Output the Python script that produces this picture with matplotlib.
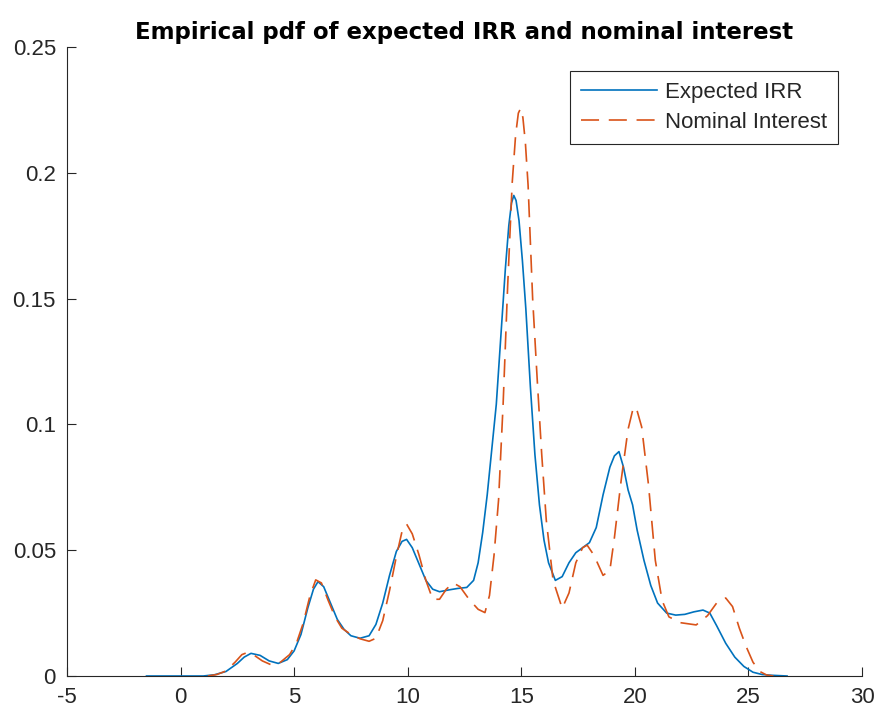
import numpy as np
import matplotlib
matplotlib.use('Agg')
import matplotlib.pyplot as plt
from matplotlib.ticker import FuncFormatter

# expected IRR
irr_x = [-1.5, 0, 1.0, 1.5, 2.0, 2.5, 2.8, 3.1, 3.5, 3.9, 4.3, 4.7, 5.0, 5.3, 5.6, 5.85,
         6.05, 6.3, 6.6, 6.9, 7.2, 7.5, 7.9, 8.3, 8.6, 8.9, 9.2, 9.5, 9.75, 9.95, 10.2,
         10.5, 10.8, 11.1, 11.4, 11.8, 12.2, 12.6, 12.9, 13.1, 13.3, 13.5, 13.7, 13.9,
         14.1, 14.3, 14.45, 14.57, 14.67, 14.77, 14.9, 15.05, 15.2, 15.4, 15.6, 15.8,
         16.0, 16.2, 16.5, 16.8, 17.1, 17.4, 17.7, 18.0, 18.3, 18.6, 18.9, 19.1, 19.3,
         19.5, 19.7, 19.9, 20.1, 20.4, 20.7, 21.0, 21.4, 21.8, 22.2, 22.6, 23.0, 23.3,
         23.6, 24.0, 24.4, 24.8, 25.2, 25.6, 26.0, 26.7]
irr_y = [0, 0, 0, 0.0005, 0.0018, 0.005, 0.0075, 0.009, 0.0082, 0.006, 0.005, 0.0065,
         0.010, 0.0165, 0.027, 0.0345, 0.0375, 0.0355, 0.029, 0.0225, 0.0185, 0.016,
         0.015, 0.016, 0.0205, 0.029, 0.040, 0.0495, 0.0535, 0.0543, 0.051, 0.0445,
         0.038, 0.0345, 0.0335, 0.0342, 0.0348, 0.0352, 0.038, 0.045, 0.057, 0.072,
         0.090, 0.108, 0.135, 0.162, 0.179, 0.188, 0.191, 0.189, 0.181, 0.165, 0.146,
         0.115, 0.088, 0.068, 0.054, 0.045, 0.038, 0.0395, 0.045, 0.049, 0.051, 0.053,
         0.059, 0.072, 0.083, 0.0875, 0.0892, 0.083, 0.074, 0.068, 0.058, 0.046, 0.036,
         0.029, 0.025, 0.0242, 0.0245, 0.0255, 0.0262, 0.025, 0.020, 0.013, 0.0075,
         0.0038, 0.0015, 0.0006, 0.0003, 0]

# nominal interest
nom_x = [1.2, 1.6, 2.0, 2.4, 2.7, 2.9, 3.2, 3.6, 4.0, 4.4, 4.8, 5.1, 5.4, 5.7, 5.95,
         6.2, 6.5, 6.8, 7.1, 7.5, 7.9, 8.3, 8.6, 8.9, 9.2, 9.5, 9.75, 9.95, 10.2, 10.5,
         10.8, 11.1, 11.4, 11.7, 12.0, 12.3, 12.7, 13.1, 13.4, 13.6, 13.8, 14.0, 14.2,
         14.4, 14.6, 14.75, 14.87, 14.97, 15.07, 15.18, 15.3, 15.5, 15.7, 15.9, 16.1,
         16.4, 16.8, 17.1, 17.4, 17.7, 17.9, 18.2, 18.6, 18.9, 19.1, 19.4, 19.7, 19.9,
         20.05, 20.3, 20.6, 20.9, 21.2, 21.5, 22.0, 22.7, 23.2, 23.6, 24.0, 24.3, 24.6,
         24.9, 25.2, 25.5, 25.8, 26.1]
nom_y = [0, 0.0006, 0.002, 0.0055, 0.0085, 0.0092, 0.0085, 0.006, 0.0044, 0.0055,
         0.0085, 0.013, 0.021, 0.032, 0.0382, 0.037, 0.030, 0.0235, 0.019, 0.0165,
         0.0148, 0.0138, 0.015, 0.022, 0.034, 0.0475, 0.0575, 0.0604, 0.0565, 0.048,
         0.038, 0.0305, 0.0305, 0.0345, 0.037, 0.0355, 0.0305, 0.0265, 0.0252, 0.032,
         0.048, 0.070, 0.108, 0.155, 0.196, 0.215, 0.2237, 0.2256, 0.222, 0.212, 0.195,
         0.150, 0.118, 0.088, 0.062, 0.038, 0.0269, 0.033, 0.045, 0.051, 0.052, 0.048,
         0.040, 0.042, 0.055, 0.078, 0.098, 0.1055, 0.107, 0.099, 0.076, 0.046, 0.030,
         0.0235, 0.0212, 0.0203, 0.024, 0.029, 0.031, 0.0276, 0.019, 0.0117, 0.0055,
         0.0018, 0.0004, 0]

x_ticks = [-5, 0, 5, 10, 15, 20, 25, 30]
y_ticks = [0, 0.05, 0.1, 0.15, 0.2, 0.25]

plt.rcParams['font.family'] = ['Liberation Sans', 'DejaVu Sans']
plt.rcParams['lines.scale_dashes'] = False
plt.rcParams['axes.unicode_minus'] = False

dark = '#262626'
fig = plt.figure(figsize=(8.76, 7.13), dpi=100)
ax = fig.add_axes([67/876, 37/713, 795/876, 629/713])

ax.plot(irr_x, irr_y, color='#0072BD', lw=1.2, label='Expected IRR')
ax.plot(nom_x, nom_y, color='#D95319', lw=1.2, dashes=(13, 7), label='Nominal Interest')

ax.set_xlim(-5, 30)
ax.set_ylim(0, 0.25)
ax.set_xticks(x_ticks)
ax.set_yticks(y_ticks)
ax.yaxis.set_major_formatter(FuncFormatter(lambda v, p: '%g' % v))

for s in ['top', 'right']:
    ax.spines[s].set_visible(False)
for s in ['left', 'bottom']:
    ax.spines[s].set_color(dark)
    ax.spines[s].set_linewidth(0.8)
ax.tick_params(direction='in', length=6.5, width=0.8, color=dark, labelcolor=dark,
               labelsize=16)
ax.tick_params(axis='x', pad=8)
ax.tick_params(axis='y', pad=8)

ax.set_title('Empirical pdf of expected IRR and nominal interest', fontsize=16.5,
             fontweight='bold', pad=5.5, color='black', family='DejaVu Sans')

leg = ax.legend(loc='upper right', bbox_to_anchor=((838-67)/795, (676-71)/629),
                borderaxespad=0, fontsize=16, fancybox=False, framealpha=1,
                edgecolor=dark, handlelength=3.4, handletextpad=0.35,
                borderpad=0.5, labelspacing=0.4)
leg.get_frame().set_linewidth(0.8)
for t in leg.get_texts():
    t.set_color(dark)

fig.savefig('out.png', dpi=100)
